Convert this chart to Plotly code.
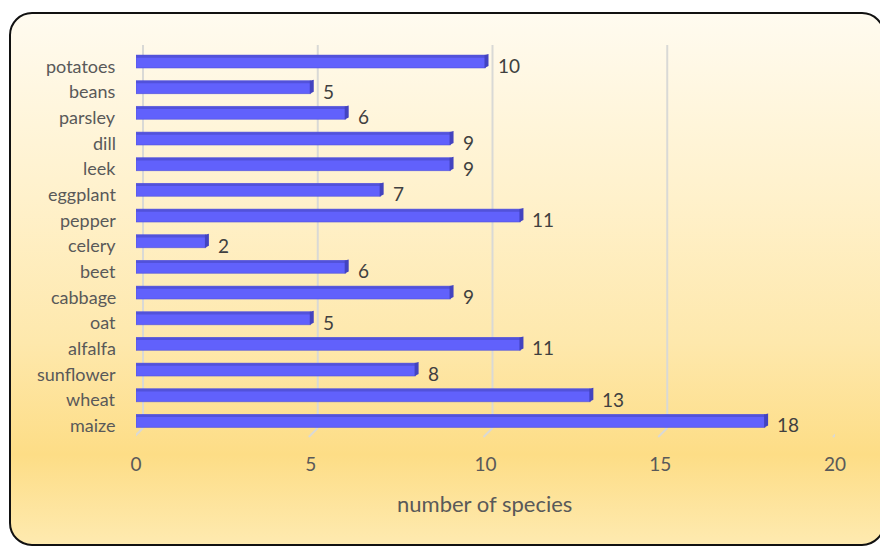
import base64
import plotly.graph_objects as go

# Crops listed top to bottom as shown on the chart
categories = ["potatoes", "beans", "parsley", "dill", "leek", "eggplant", "pepper",
              "celery", "beet", "cabbage", "oat", "alfalfa", "sunflower", "wheat", "maize"]
species = [10, 5, 6, 9, 9, 7, 11, 2, 6, 9, 5, 11, 8, 13, 18]
x_ticks = [0, 5, 10, 15, 20]

W, H = 880, 547
FONT = "Lato, 'Open Sans', sans-serif"

# plot from bottom (maize) to top (potatoes)
cats = categories[::-1]
vals = species[::-1]
idx = list(range(len(cats)))

def px(x):
    return x / W

def py(y):
    return 1 - y / H

# rounded panel with vertical gold gradient
svg = f"""<svg xmlns='http://www.w3.org/2000/svg' width='{W}' height='{H}' viewBox='0 0 {W} {H}' preserveAspectRatio='none'>
<defs><linearGradient id='g' x1='0' y1='0' x2='0' y2='1'>
<stop offset='0' stop-color='#FFFBF0'/>
<stop offset='0.35' stop-color='#FFF1CB'/>
<stop offset='0.62' stop-color='#FEE8AC'/>
<stop offset='0.83' stop-color='#FDDD86'/>
<stop offset='1' stop-color='#FEEAB0'/>
</linearGradient></defs>
<rect x='10' y='13' width='874' height='532' rx='22' ry='22' fill='url(#g)' stroke='#111' stroke-width='2'/>
</svg>"""
bg = "data:image/svg+xml;base64," + base64.b64encode(svg.encode()).decode()

fig = go.Figure()

# main bar bodies
fig.add_trace(go.Bar(
    y=idx, x=vals, orientation="h", width=0.5,
    marker=dict(color="#6161FC", line=dict(color="#5252D6", width=0.6)),
    hoverinfo="skip", showlegend=False,
))
# darker top face strip
fig.add_trace(go.Bar(
    y=idx, x=vals, orientation="h", width=0.1, offset=0.15,
    marker=dict(color="#5252DA", line=dict(width=0)),
    hoverinfo="skip", showlegend=False,
))

shapes = []
# gridlines with 3D floor foot
for t in x_ticks:
    shapes.append(dict(type="line", xref="x", xsizemode="pixel", xanchor=t,
                       x0=7, x1=7, yref="paper", y0=py(428), y1=py(45),
                       line=dict(color="#D9D9D6", width=2), layer="below"))
    shapes.append(dict(type="line", xref="x", xsizemode="pixel", xanchor=t,
                       x0=7, x1=-2, yref="paper", y0=py(428), y1=py(437),
                       line=dict(color="#D9D9D6", width=2), layer="below"))
# bar end caps
for i, v in zip(idx, vals):
    shapes.append(dict(type="path", xref="x", xsizemode="pixel", xanchor=v,
                       yref="y", ysizemode="pixel", yanchor=i,
                       path="M -1,-6.5 L 3,-4.5 L 3,7.5 L -1,6.5 Z",
                       fillcolor="#4343C0", line=dict(width=0)))

annotations = []
# category labels, set slightly below the bar centre line
for i, c in zip(idx, cats):
    annotations.append(dict(x=px(118), y=i, xref="paper", yref="y", text=c, showarrow=False,
                            xanchor="right", yanchor="middle", yshift=-4,
                            font=dict(family=FONT, size=18, color="#595959")))
# value labels
for i, v in zip(idx, vals):
    annotations.append(dict(x=v, y=i, xref="x", yref="y", text=str(v), showarrow=False,
                            xanchor="left", yanchor="middle", xshift=10, yshift=-4,
                            font=dict(family=FONT, size=19, color="#404040")))
annotations.append(dict(x=px(484), y=py(503), xref="paper", yref="paper",
                        text="number of species", showarrow=False,
                        xanchor="center", yanchor="middle",
                        font=dict(family=FONT, size=22, color="#595959")))

y_top, y_bot = 48.7, 433.8
fig.update_layout(
    width=W, height=H,
    margin=dict(l=0, r=0, t=0, b=0, autoexpand=False),
    paper_bgcolor="white", plot_bgcolor="rgba(0,0,0,0)",
    barmode="overlay",
    images=[dict(source=bg, xref="paper", yref="paper", x=0, y=1, sizex=1, sizey=1,
                 xanchor="left", yanchor="top", sizing="stretch", layer="below")],
    xaxis=dict(range=[0, 20], domain=[px(136), px(835)], tickvals=x_ticks,
               showgrid=False, zeroline=False, showline=False, ticks="",
               automargin=False, ticklabelstandoff=17,
               tickfont=dict(family=FONT, size=19, color="#595959")),
    yaxis=dict(range=[-0.5, 14.5], domain=[py(y_bot), py(y_top)],
               tickvals=idx, showticklabels=False,
               showgrid=False, zeroline=False, showline=False, ticks="",
               automargin=False),
    shapes=shapes,
    annotations=annotations,
    font=dict(family=FONT),
)

fig.write_html("out.html")
